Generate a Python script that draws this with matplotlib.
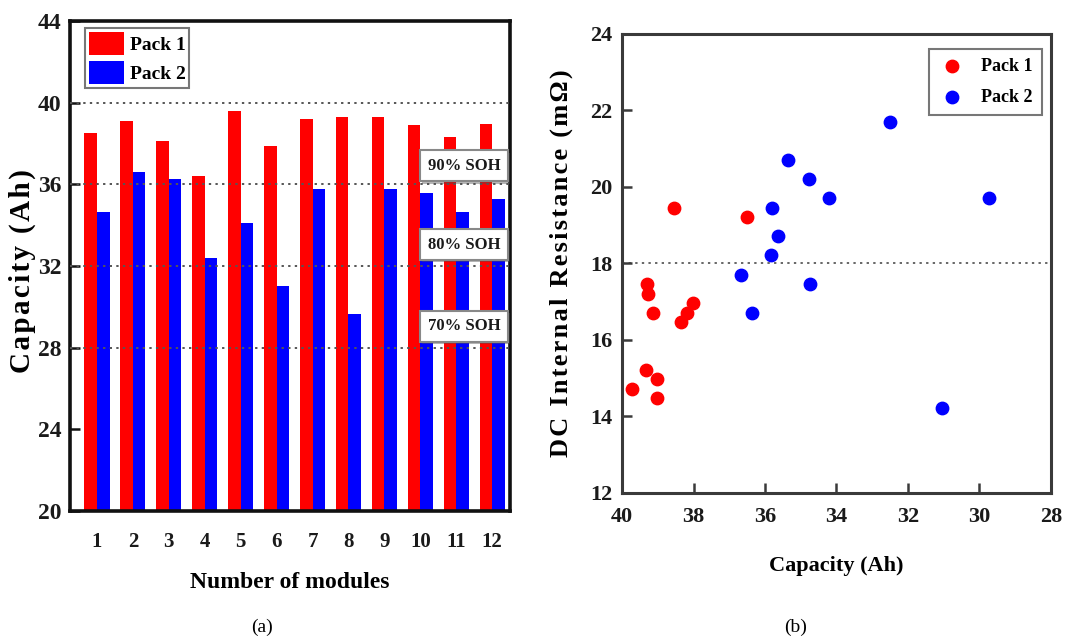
"""
Capacity of battery modules for two packs (a) and DC internal resistance vs capacity (b).
"""

import matplotlib.pyplot as plt
import matplotlib.patheffects as pe
import numpy as np

# Data
modules = list(range(1, 13))
pack1_capacity = [38.5, 39.1, 38.1, 36.4, 39.6, 37.9, 39.2, 39.3, 39.3, 38.9, 38.3, 38.95]
pack2_capacity = [34.65, 36.6, 36.25, 32.4, 34.1, 31.0, 35.75, 29.65, 35.75, 35.6, 34.65, 35.3]

soh_levels = [40, 36, 32, 28]
soh_labels = ["90% SOH", "80% SOH", "70% SOH"]
soh_label_y = [36.9, 33.05, 29.05]

pack1_cap_b = [39.73, 39.33, 39.03, 39.03, 39.30, 39.28, 39.12, 38.34, 38.18, 38.01, 38.55, 36.50]
pack1_res_b = [14.72, 15.22, 14.97, 14.48, 17.47, 17.21, 16.71, 16.46, 16.71, 16.96, 19.44, 19.21]
pack2_cap_b = [36.66, 36.35, 35.83, 35.81, 35.65, 35.37, 34.78, 34.74, 34.22, 32.49, 29.73, 31.06]
pack2_res_b = [17.71, 16.71, 18.21, 19.44, 18.71, 20.71, 20.21, 17.46, 19.71, 21.70, 19.71, 14.22]

RED = "#ff0000"
BLUE = "#0000ff"
SERIF = ["Liberation Serif", "DejaVu Serif"]
HAIR = "\u200a"

plt.rcParams["font.family"] = SERIF
plt.rcParams["font.weight"] = "bold"


def spaced(text):
    # the y labels in the reference are slightly letter-spaced
    return HAIR.join(text)


def style_axes(ax, xsize, ysize, xpad, ypad, spine_color, lw):
    for spine in ax.spines.values():
        spine.set_color(spine_color)
        spine.set_linewidth(lw)
    ax.tick_params(direction="in", length=7, width=1.8, color=spine_color)
    ax.tick_params(axis="x", labelsize=xsize, pad=xpad)
    ax.tick_params(axis="y", labelsize=ysize, pad=ypad)
    for lab in ax.get_xticklabels() + ax.get_yticklabels():
        lab.set_fontweight("bold")
        lab.set_color("#1a1a1a")


def plot_capacity(ax):
    x = np.array(modules)
    w = 0.35
    ax.bar(x - w / 2, pack1_capacity, width=w, color=RED, label="Pack 1", zorder=2)
    ax.bar(x + w / 2, pack2_capacity, width=w, color=BLUE, label="Pack 2", zorder=2)
    for level in soh_levels:
        ax.axhline(level, color="#555555", linestyle=(0, (1.2, 2.2)), linewidth=1.4, zorder=3)
    for label, y in zip(soh_labels, soh_label_y):
        t = ax.text(11.22, y, label, ha="center", va="center", fontsize=12, fontweight="bold",
                    color="#1a1a1a", zorder=5,
                    bbox=dict(boxstyle="square,pad=0.45", facecolor="white", edgecolor="#888888", linewidth=1.5))
        t.get_bbox_patch().set_path_effects([pe.withSimplePatchShadow(offset=(1.5, -1.5), alpha=0.4)])
    ax.set_xlim(0.25, 12.5)
    ax.set_ylim(20, 44)
    ax.set_xticks(modules)
    ax.set_yticks([20, 24, 28, 32, 36, 40, 44])
    style_axes(ax, 15, 17, 15, 6, "#111111", 2.6)
    ax.set_xlabel("Number of modules", fontsize=17, fontweight="bold")
    ax.set_ylabel(spaced("Capacity (Ah)"), fontsize=21, fontweight="bold")
    ax.xaxis.set_label_coords(0.5, -0.125)
    ax.yaxis.set_label_coords(-0.077, 0.49)
    leg = ax.legend(loc="upper left", bbox_to_anchor=(0.034, 0.986), borderaxespad=0,
                    handlelength=1.8, handleheight=1.45, fancybox=False, framealpha=1,
                    edgecolor="#777777", borderpad=0.2, labelspacing=0.3, handletextpad=0.3,
                    prop={"family": SERIF, "weight": "bold", "size": 14})
    leg.get_frame().set_linewidth(1.5)


def plot_resistance(ax):
    ax.axhline(18, color="#666666", linestyle=(0, (1.2, 2.2)), linewidth=1.4, zorder=1)
    ax.scatter(pack1_cap_b, pack1_res_b, s=80, color=RED, label="Pack 1", zorder=3)
    ax.scatter(pack2_cap_b, pack2_res_b, s=80, color=BLUE, label="Pack 2", zorder=3)
    ax.set_xlim(40, 28)
    ax.set_ylim(12, 24)
    ax.set_xticks([40, 38, 36, 34, 32, 30, 28])
    ax.set_yticks([12, 14, 16, 18, 20, 22, 24])
    style_axes(ax, 16, 16, 10, 7, "#3a3a3a", 2.2)
    ax.set_xlabel("Capacity (Ah)", fontsize=16, fontweight="bold")
    ax.set_ylabel(spaced("DC Internal Resistance (m\u03a9)"), fontsize=19, fontweight="bold")
    ax.xaxis.set_label_coords(0.5, -0.137)
    ax.yaxis.set_label_coords(-0.115, 0.5)
    leg = ax.legend(loc="upper right", bbox_to_anchor=(0.979, 0.967), borderaxespad=0,
                    fancybox=False, framealpha=1, edgecolor="#777777",
                    borderpad=0.5, labelspacing=0.75, handlelength=1.5, handletextpad=0.9,
                    prop={"family": SERIF, "weight": "bold", "size": 13})
    leg.get_frame().set_linewidth(1.5)


def main():
    fig = plt.figure(figsize=(10.66, 6.41), dpi=100)
    ax_a = fig.add_axes([0.0657, 0.2028, 0.4128, 0.7644])
    ax_b = fig.add_axes([0.5835, 0.2309, 0.4024, 0.7161])

    plot_capacity(ax_a)
    plot_resistance(ax_b)

    fig.text(0.246, 0.022, "(a)", ha="center", va="center", fontsize=14, fontweight="normal")
    fig.text(0.746, 0.022, "(b)", ha="center", va="center", fontsize=14, fontweight="normal")

    fig.savefig("out.png", dpi=100)
    plt.close(fig)


if __name__ == "__main__":
    main()
